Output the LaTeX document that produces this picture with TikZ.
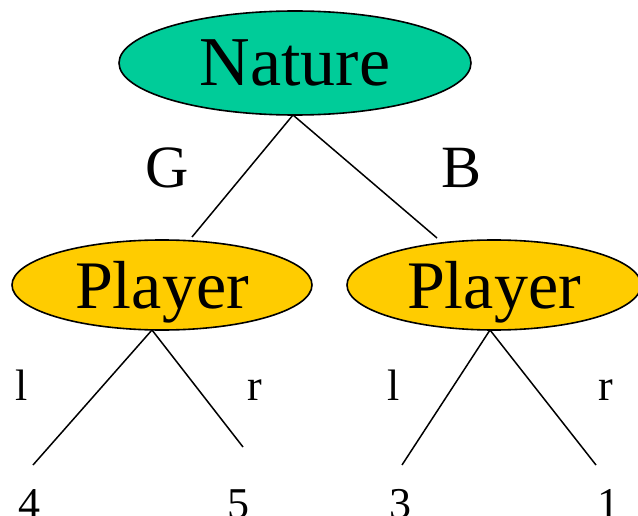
\documentclass[tikz,border=0pt]{standalone}
\usepackage{fontspec}
\setmainfont{Liberation Serif}
\usetikzlibrary{shapes.geometric}
\definecolor{naturegreen}{RGB}{0,204,153}
\definecolor{playeryellow}{RGB}{255,204,0}
\begin{document}
\begin{tikzpicture}[x=1pt,y=-1pt,
  oval/.style={ellipse, draw=black, line width=1.6pt, inner sep=0pt, text depth=0pt},
  big/.style={font=\fontsize{70}{80}\selectfont},
  mid/.style={font=\fontsize{60}{70}\selectfont},
  small/.style={font=\fontsize{44}{50}\selectfont},
  edge/.style={line width=1.5pt}]
\useasboundingbox (0,0) rectangle (638,516);
\node[oval, big, fill=naturegreen, minimum width=352pt, minimum height=104pt] (nature) at (295,63) {Nature};
\node[oval, font=\fontsize{68}{78}\selectfont, fill=playeryellow, minimum width=300pt, minimum height=90pt] (pl) at (162,285) {Player};
\node[oval, font=\fontsize{68}{78}\selectfont, fill=playeryellow, minimum width=294pt, minimum height=90pt] (pr) at (494,285) {Player};
\coordinate (na) at (293,115);
\coordinate (plt) at (192,237);
\coordinate (prt) at (437,238);
\coordinate (pla) at (152,330);
\coordinate (pra) at (490,330);
\coordinate (l1) at (33,465);
\coordinate (r1) at (243,447);
\coordinate (l2) at (402,465);
\coordinate (r2) at (596,465);
\draw[edge] (na) -- (plt);
\draw[edge] (na) -- (prt);
\draw[edge] (pla) -- (l1);
\draw[edge] (pla) -- (r1);
\draw[edge] (pra) -- (l2);
\draw[edge] (pra) -- (r2);
\node[mid, inner sep=0pt] (g) at (167,168) {G};
\node[mid, inner sep=0pt] (b) at (462,168) {B};
\node[small, inner sep=0pt, anchor=base] (la) at (22,400) {l};
\node[small, inner sep=0pt, anchor=base] (ra) at (255,400) {r};
\node[small, inner sep=0pt, anchor=base] (lb) at (394,400) {l};
\node[small, inner sep=0pt, anchor=base] (rb) at (606,400) {r};
\node[small, inner sep=0pt, anchor=base] (v1) at (30,518) {4};
\node[small, inner sep=0pt, anchor=base] (v2) at (238,518) {5};
\node[small, inner sep=0pt, anchor=base] (v3) at (400,518) {3};
\node[small, inner sep=0pt, anchor=base] (v4) at (608,518) {1};
\end{tikzpicture}
\end{document}
